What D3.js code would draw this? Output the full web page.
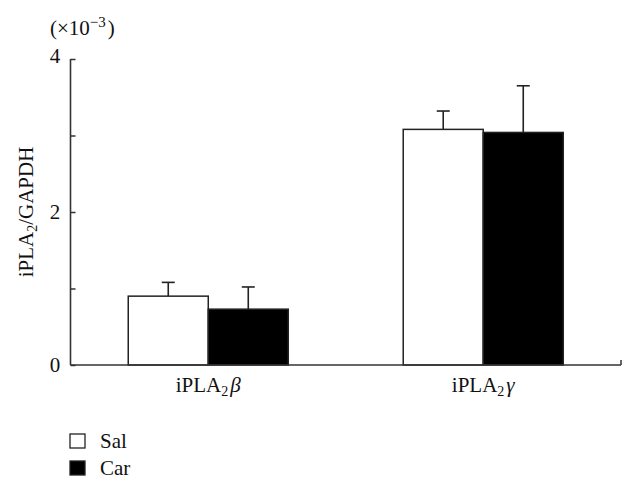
<!DOCTYPE html>
<html>
<head>
<meta charset="utf-8">
<script src="https://cdn.jsdelivr.net/npm/d3@7"></script>
<style>
body { margin: 0; background: #fff; }
text { font-family: "Liberation Serif", "DejaVu Serif", serif; fill: #111; }
</style>
</head>
<body>
<div id="chart"></div>
<script>
var groups = ["beta", "gamma"];
var series = ["Sal", "Car"];
var salValues = [0.90, 3.08];
var carValues = [0.73, 3.04];
var salErrors = [0.18, 0.24];
var carErrors = [0.29, 0.61];
var yTicks = [0, 2, 4];
var yMinorTicks = [1, 3];

var svg = d3.select("#chart").append("svg")
    .attr("width", 635)
    .attr("height", 489);

var x0 = 70.5, x1 = 621, yBottom = 365, yTop = 59;

var xScale = d3.scaleBand()
    .domain(groups)
    .range([x0, x1])
    .paddingInner(0.418)
    .paddingOuter(0.21);

var xInner = d3.scaleBand()
    .domain(series)
    .range([0, xScale.bandwidth()]);

var yScale = d3.scaleLinear()
    .domain([0, 4])
    .range([yBottom, yTop]);

var data = groups.map(function (g, i) {
    return [
        { group: g, series: "Sal", value: salValues[i], err: salErrors[i], fill: "#fff" },
        { group: g, series: "Car", value: carValues[i], err: carErrors[i], fill: "#000" }
    ];
});

var bars = svg.append("g");
data.forEach(function (pair) {
    pair.forEach(function (d) {
        var bx = xScale(d.group) + xInner(d.series);
        var cx = bx + xInner.bandwidth() / 2;
        // error bar (up only)
        bars.append("line")
            .attr("x1", cx).attr("x2", cx)
            .attr("y1", yScale(d.value)).attr("y2", yScale(d.value + d.err))
            .attr("stroke", "#222").attr("stroke-width", 1.6);
        bars.append("line")
            .attr("x1", cx - 6.5).attr("x2", cx + 6.5)
            .attr("y1", yScale(d.value + d.err)).attr("y2", yScale(d.value + d.err))
            .attr("stroke", "#222").attr("stroke-width", 1.6);
        bars.append("rect")
            .attr("x", bx)
            .attr("y", yScale(d.value))
            .attr("width", xInner.bandwidth())
            .attr("height", yScale(0) - yScale(d.value))
            .attr("fill", d.fill)
            .attr("stroke", "#222")
            .attr("stroke-width", 1.5);
    });
});

// y axis
var yAxis = d3.axisRight(yScale)
    .tickValues(yTicks.concat(yMinorTicks))
    .tickSize(5)
    .tickFormat("");
var yg = svg.append("g").attr("transform", "translate(" + x0 + ",0)").call(yAxis);
yg.select(".domain").remove();
yg.selectAll("line").attr("stroke", "#333").attr("stroke-width", 1.5);
svg.append("line")
    .attr("x1", x0).attr("x2", x0)
    .attr("y1", yTop).attr("y2", yBottom)
    .attr("stroke", "#333").attr("stroke-width", 1.6);

yTicks.forEach(function (t) {
    svg.append("text")
        .attr("x", 55)
        .attr("y", yScale(t) + (t === 4 ? 4 : 7))
        .attr("text-anchor", "middle")
        .attr("font-size", 21)
        .text(t);
});

// x axis
svg.append("line")
    .attr("x1", x0).attr("x2", x1)
    .attr("y1", yBottom).attr("y2", yBottom)
    .attr("stroke", "#333").attr("stroke-width", 1.6);
svg.append("line")
    .attr("x1", x1).attr("x2", x1)
    .attr("y1", yBottom).attr("y2", yBottom - 5)
    .attr("stroke", "#333").attr("stroke-width", 1.5);

var greek = { beta: "\u03B2", gamma: "\u03B3" };
groups.forEach(function (g) {
    var t = svg.append("text")
        .attr("x", xScale(g) + xScale.bandwidth() / 2)
        .attr("y", 392)
        .attr("text-anchor", "middle")
        .attr("font-size", 21);
    t.append("tspan").text("iPLA");
    t.append("tspan").attr("font-size", 14).attr("dy", 4).text("2");
    t.append("tspan").attr("dy", -4).attr("dx", 2).attr("font-style", "italic").text(greek[g]);
});

// y label
var yl = svg.append("text")
    .attr("transform", "translate(33," + ((yTop + yBottom) / 2) + ") rotate(-90)")
    .attr("text-anchor", "middle")
    .attr("font-size", 21);
yl.append("tspan").text("iPLA");
yl.append("tspan").attr("font-size", 14).attr("dy", 4).text("2");
yl.append("tspan").attr("dy", -4).text("/GAPDH");

// exponent
var ex = svg.append("text")
    .attr("x", 50).attr("y", 35)
    .attr("font-size", 21);
ex.append("tspan").text("(\u00D710");
ex.append("tspan").attr("font-size", 15).attr("dy", -8).text("\u22123");
ex.append("tspan").attr("dy", 8).attr("dx", 2).text(")");

// legend
var legend = svg.append("g");
series.forEach(function (s, i) {
    legend.append("rect")
        .attr("x", 70).attr("y", 434 + i * 27)
        .attr("width", 15).attr("height", 14)
        .attr("fill", i === 0 ? "#fff" : "#000")
        .attr("stroke", "#222").attr("stroke-width", 1.3);
    legend.append("text")
        .attr("x", 100).attr("y", 448 + i * 27)
        .attr("font-size", 21)
        .text(s);
});
</script>
</body>
</html>
